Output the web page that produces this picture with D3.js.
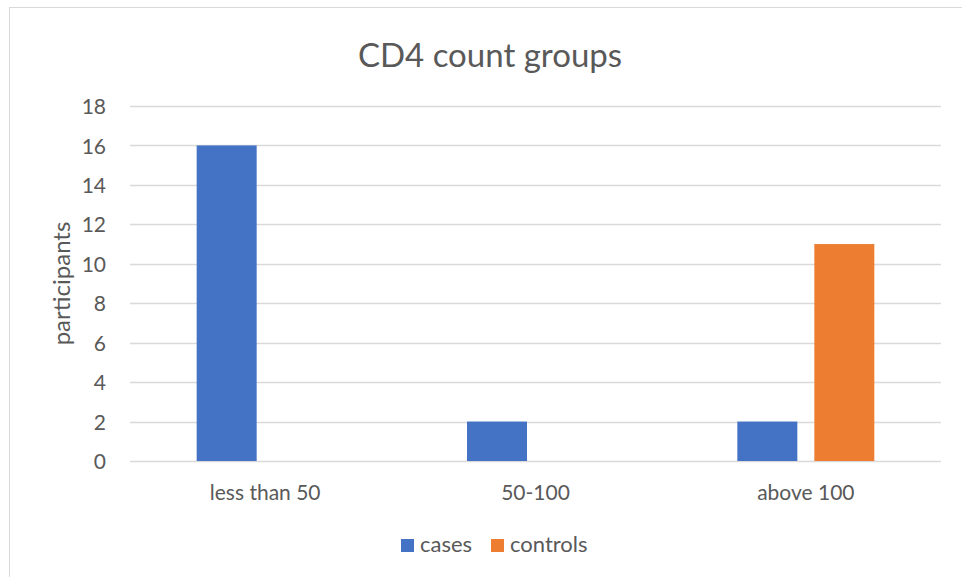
<!DOCTYPE html>
<html>
<head>
<meta charset="utf-8">
<script src="https://cdn.jsdelivr.net/npm/d3@7"></script>
<style>
  html, body { margin: 0; padding: 0; background: #fff; }
  svg { display: block; font-family: Lato, "Open Sans", sans-serif; }
</style>
</head>
<body>
<svg id="chart" width="962" height="577"></svg>
<script>
// CD4 count groups: participants per group, cases vs controls
const categories = ["less than 50", "50-100", "above 100"];
const seriesNames = ["cases", "controls"];
const casesValues = [16, 2, 2];
const controlsValues = [0, 0, 11];
const yTicks = [0, 2, 4, 6, 8, 10, 12, 14, 16, 18];
const colors = ["#4472c4", "#ed7d31"];

const svg = d3.select("#chart");
const W = 962, H = 577;
const plot = { left: 130, right: 941, top: 106, bottom: 461 };
const textColor = "#595959";

// chart frame
svg.append("rect")
  .attr("x", 9.5).attr("y", 7.5)
  .attr("width", W + 20).attr("height", H + 20)
  .attr("fill", "#fff").attr("stroke", "#d9d9d9").attr("stroke-width", 1);

const x = d3.scaleBand().domain(categories).range([plot.left, plot.right]);
const y = d3.scaleLinear().domain([0, 18]).range([plot.bottom, plot.top]);

const barW = 60, barStep = 77;
const xs = d3.scaleBand().domain(seriesNames)
  .range([x.bandwidth() / 2 - barStep, x.bandwidth() / 2 + barStep]);

// gridlines
svg.append("g")
  .selectAll("line").data(yTicks).join("line")
  .attr("x1", plot.left).attr("x2", plot.right)
  .attr("y1", d => Math.round(y(d)) + 0.5).attr("y2", d => Math.round(y(d)) + 0.5)
  .attr("stroke", "#d9d9d9").attr("stroke-width", 1.3);

// y axis labels
const yAxis = d3.axisLeft(y).tickValues(yTicks).tickSize(0).tickPadding(0);
svg.append("g")
  .attr("transform", `translate(${plot.left - 24},0)`)
  .call(yAxis)
  .call(g => g.select(".domain").remove())
  .call(g => g.attr("font-size", null).attr("font-family", null))
  .call(g => g.selectAll("text")
    .attr("fill", textColor).attr("font-size", 21)
    .attr("dy", "0.36em"));

// bars
const data = categories.map((c, i) => ({ cat: c, vals: [casesValues[i], controlsValues[i]] }));
const groups = svg.append("g").selectAll("g").data(data).join("g")
  .attr("transform", d => `translate(${x(d.cat)},0)`);
groups.selectAll("rect")
  .data(d => d.vals.map((v, j) => ({ name: seriesNames[j], v, j })).filter(e => e.v > 0))
  .join("rect")
  .attr("x", d => xs(d.name) + xs.bandwidth() / 2 - barW / 2)
  .attr("width", barW)
  .attr("y", d => y(d.v))
  .attr("height", d => y(0) - y(d.v))
  .attr("fill", d => colors[d.j]);

// x axis labels
const xAxis = d3.axisBottom(x).tickSize(0).tickPadding(0);
svg.append("g")
  .attr("transform", `translate(0,${plot.bottom})`)
  .call(xAxis)
  .call(g => g.select(".domain").remove())
  .call(g => g.attr("font-size", null).attr("font-family", null))
  .call(g => g.selectAll("text")
    .attr("fill", textColor).attr("font-size", 21)
    .attr("dy", null).attr("y", 39));

// title
svg.append("text")
  .attr("x", 490).attr("y", 67)
  .attr("text-anchor", "middle")
  .attr("fill", textColor).attr("font-size", 33)
  .text("CD4 count groups");

// y axis title
svg.append("text")
  .attr("transform", `translate(70,${(plot.top + plot.bottom) / 2}) rotate(-90)`)
  .attr("text-anchor", "middle")
  .attr("fill", textColor).attr("font-size", 24)
  .text("participants");

// legend
const legendX = [401, 491];
const legend = svg.append("g").selectAll("g").data(seriesNames).join("g")
  .attr("transform", (d, i) => `translate(${legendX[i]},539)`);
legend.append("rect").attr("width", 13).attr("height", 13)
  .attr("fill", (d, i) => colors[i]);
legend.append("text").attr("x", 19).attr("y", 13)
  .attr("fill", textColor).attr("font-size", 22)
  .text(d => d);
</script>
</body>
</html>
